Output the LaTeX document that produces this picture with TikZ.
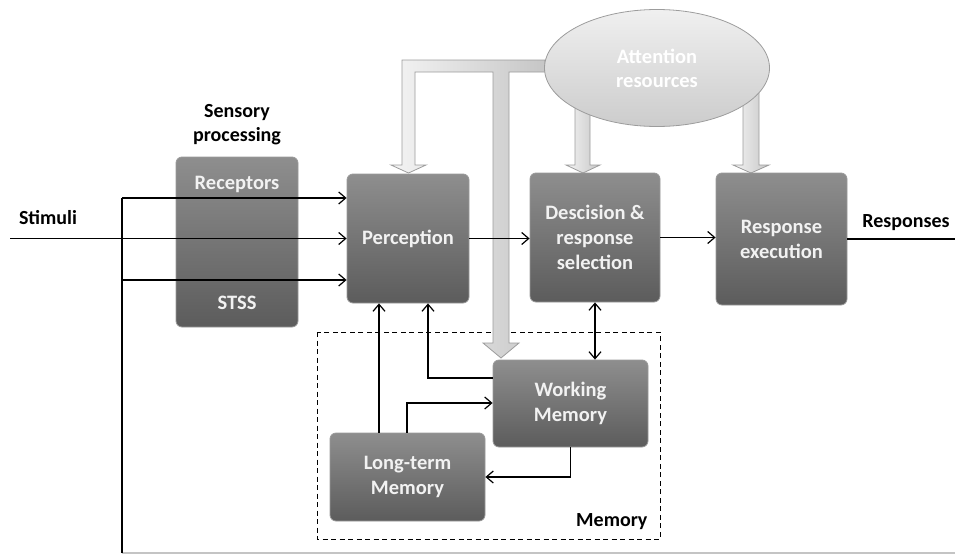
\documentclass[tikz,border=0pt]{standalone}
\usepackage{fontspec}
\setmainfont{Carlito}
\usetikzlibrary{arrows.meta,shapes.geometric,calc}

\definecolor{boxtop}{HTML}{8E8E8E}
\definecolor{boxbot}{HTML}{5C5C5C}
\definecolor{boxtext}{HTML}{F2F2F2}
\definecolor{boxedge}{HTML}{9A9A9A}
\definecolor{bigtop}{HTML}{F4F4F4}
\definecolor{bigbot}{HTML}{C6C6C6}
\definecolor{bigedge}{HTML}{9C9C9C}
\definecolor{feedgray}{HTML}{C4C4C4}

\tikzset{
  stagebox/.style={rounded corners=6pt, draw=boxedge, line width=0.8pt,
    top color=boxtop, bottom color=boxbot, text=boxtext,
    font=\fontsize{20.5}{25}\selectfont\bfseries, align=center, inner sep=0pt},
  plainlabel/.style={font=\fontsize{20}{24}\selectfont\bfseries, align=center, text=black},
  conn/.style={line width=1.2pt, -{Straight Barb[length=7pt,width=12pt,line width=1.2pt]}},
  conntwo/.style={line width=1.2pt, {Straight Barb[length=7pt,width=12pt,line width=1.2pt]}-{Straight Barb[length=7pt,width=12pt,line width=1.2pt]}},
  wire/.style={line width=1.2pt},
  bigarrow/.style={draw=bigedge, line width=0.8pt, left color=bigtop, right color=bigbot, line join=miter},
  membox/.style={draw=black, dashed, line width=1pt, dash pattern=on 5pt off 3.5pt}
}

\begin{document}
\begin{tikzpicture}[x=1pt,y=-1pt]
\useasboundingbox (0,0) rectangle (955,554);

% memory region
\draw[membox] (317,332) rectangle (660,539);
\node[plainlabel, anchor=east] (memlabel) at (651,522) {Memory};

% wide attention arrows
\path[bigarrow] (545,60) -- (402,60) -- (402,165) -- (391,165) -- (408.5,173)
  -- (426,165) -- (415,165) -- (415,72) -- (493,72) -- (493,343) -- (483,343)
  -- (501,358) -- (519,343) -- (509,343) -- (509,72) -- (545,72) -- cycle;
\path[bigarrow] (575,100) -- (575,165) -- (566,165) -- (583,173) -- (600,165)
  -- (590,165) -- (590,100) -- cycle;
\path[bigarrow] (743,90) -- (743,165) -- (733,165) -- (751,173) -- (769,165)
  -- (759,165) -- (759,90) -- cycle;

\node[ellipse, draw=bigedge, line width=0.8pt, top color=gray!12, bottom color=gray!40,
  minimum width=225pt, minimum height=117pt, text=white, align=center,
  font=\fontsize{20.5}{24}\selectfont\bfseries] (attn) at (657,68) {Attention\\resources};

% processing stages
\node[plainlabel] (senslabel) at (237,125) {Sensory\\processing};
\node[stagebox, minimum width=122pt, minimum height=170pt] (sens) at (237,242) {};
\node[text=boxtext, font=\fontsize{20.5}{25}\selectfont\bfseries] (recept) at (237,184) {Receptors};
\node[text=boxtext, font=\fontsize{20.5}{25}\selectfont\bfseries] (stss) at (237,303) {STSS};

\node[stagebox, minimum width=122pt, minimum height=129pt] (perc) at (408,238.5) {Perception};
\node[stagebox, minimum width=130pt, minimum height=129pt] (dec) at (595,237.5) {Descision \&\\response\\selection};
\node[stagebox, minimum width=131pt, minimum height=132pt] (resp) at (781.5,239) {Response\\execution};
\node[stagebox, minimum width=155pt, minimum height=87pt] (wm) at (570.5,403.5) {Working\\Memory};
\node[stagebox, minimum width=155pt, minimum height=88pt] (ltm) at (407.5,477) {Long-term\\Memory};

% input and output
\node[plainlabel] (stimlabel) at (48,218) {Stimuli};
\node[plainlabel] (resplabel) at (906,223) {Responses};
\coordinate (stimin) at (10,238.5);
\coordinate (respout) at (955,239);

% feedback loop
\coordinate (fbtop) at (122,198);
\coordinate (fbmid) at (122,280);
\coordinate (fbbot) at (122,553);
\coordinate (fbend) at (955,553);
\draw[line width=1.4pt, feedgray] (fbend) -- (fbbot);
\draw[wire] (fbbot) -- (fbtop);
\draw[conn] (fbtop) -- (perc.west |- fbtop);
\draw[conn] (fbmid) -- (perc.west |- fbmid);
\draw[conn] (stimin) -- (perc.west);

% forward path
\draw[conn] (perc.east) -- (dec.west |- perc.east);
\draw[conn] (dec.east) -- (resp.west |- dec.east);
\draw[wire] (resp.east) -- (respout);

% memory links
\coordinate (xa) at (379,0);
\coordinate (xb) at (428,0);
\coordinate (xc) at (407,0);
\coordinate (ya) at (0,378);
\coordinate (yb) at (0,403);
\draw[conn] (ltm.north -| xa) -- (perc.south -| xa);
\draw[conn] (wm.west |- ya) -| (perc.south -| xb);
\draw[conn] (ltm.north -| xc) |- (wm.west |- yb);
\draw[conn] (wm.south) |- (ltm.east);
\draw[conntwo] (dec.south) -- (dec.south |- wm.north);
\end{tikzpicture}
\end{document}
